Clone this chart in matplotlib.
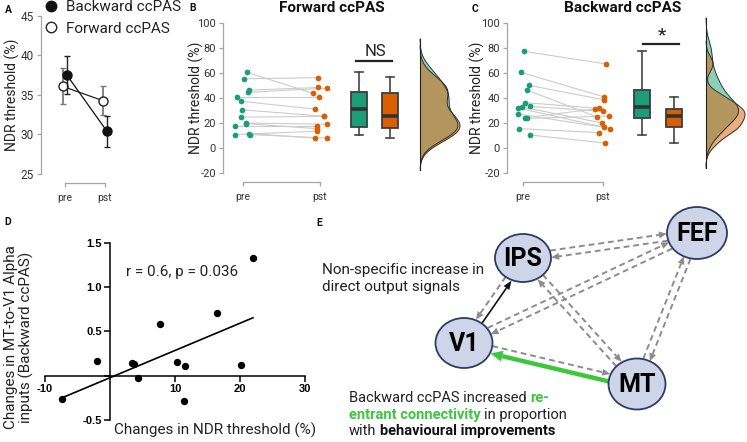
import numpy as np
import matplotlib
matplotlib.use("Agg")
import matplotlib.pyplot as plt
from matplotlib.patches import Ellipse, Polygon
from matplotlib.lines import Line2D

plt.rcParams['font.family'] = ['Roboto', 'DejaVu Sans']
plt.rcParams['axes.unicode_minus'] = False

W, H = 747, 442

# ---------------- data ----------------
sessions = ['pre', 'pst']

# A: group means +- error
bwd_mean = [37.5, 30.4]
bwd_err = [2.4, 2.0]
fwd_mean = [36.1, 34.3]
fwd_err = [2.3, 1.8]

# B: forward ccPAS, single subjects (NDR threshold %)
fwd_pre = [60.5, 55.3, 46.3, 44.5, 40.5, 37.4, 30.5, 24.7, 20.0, 19.5, 17.4, 10.8, 11.6, 10.8]
fwd_pst = [43.7, 56.3, 48.4, 47.9, 40.5, 31.1, 25.5, 25.3, 19.0, 15.5, 17.4, 13.4, 7.9, 7.9]
fwd_box = [dict(whislo=10.5, q1=17.2, med=31.0, q3=45.0, whishi=60.5, fliers=[]),
           dict(whislo=7.8, q1=16.4, med=25.7, q3=44.2, whishi=56.4, fliers=[])]

# C: backward ccPAS
bwd_pre = [77.3, 60.5, 50.1, 46.4, 36.3, 33.3, 32.8, 32.0, 27.2, 24.3, 23.7, 15.5, 10.4]
bwd_pst = [67.2, 40.8, 38.6, 24.8, 31.7, 29.3, 20.0, 15.5, 16.5, 31.2, 25.6, 12.3, 4.0]
bwd_box = [dict(whislo=10.4, q1=24.0, med=33.0, q3=46.4, whishi=77.3, fliers=[]),
           dict(whislo=4.0, q1=17.0, med=25.3, q3=31.4, whishi=40.5, fliers=[])]

# horizontal jitter of the dots (px)
fwd_pre_jit = [4, 1.3, 6, 5.3, -6, -2, -0.7, -2.3, 2.7, 2.7, -7.7, -7.7, 6, 7]
fwd_pst_jit = [-6.7, -2, -2, 6.7, -1, -5, 3.7, 4.3, 7.3, -3, -3.3, -3, -4.7, 7]
bwd_pre_jit = [1, -2, 6, 3.7, 2, 6.7, -1.3, -5, -5, 2.3, 4, -4.3, 7]
bwd_pst_jit = [3.3, 1.3, 0.7, -5.7, -4.3, -0.3, -0.7, 7.3, 1, -8, 6, -3.7, 1.7]

# D: correlation
chg_ndr = [-7.4, -2.0, 3.4, 3.7, 4.3, 7.7, 10.3, 11.6, 11.4, 16.5, 20.2, 22.0]
chg_alpha = [-0.26, 0.16, 0.14, 0.13, -0.03, 0.58, 0.15, 0.11, -0.29, 0.71, 0.12, 1.33]

GREEN = '#1b9e77'
ORANGE = '#d95f02'
AXGREY = '#a6a6a6'
TXT = '#333333'


def px_axes(l, t, r, b):
    return fig.add_axes([l / W, 1 - b / H, (r - l) / W, (b - t) / H])


def nrd0(v):
    v = np.asarray(v, float)
    iqr = np.subtract(*np.percentile(v, [75, 25]))
    return 0.9 * min(v.std(ddof=1), iqr / 1.34) * len(v) ** -0.2


def kde(v):
    v = np.asarray(v, float)
    bw = nrd0(v)
    g = np.linspace(v.min() - 3 * bw, v.max() + 3 * bw, 400)
    d = np.exp(-0.5 * ((g[:, None] - v[None, :]) / bw) ** 2).sum(1) / (len(v) * bw * np.sqrt(2 * np.pi))
    return g, d


def grey_axes(ax, x0, x1):
    for s in ['top', 'right']:
        ax.spines[s].set_visible(False)
    for s in ['left', 'bottom']:
        ax.spines[s].set_color(AXGREY)
        ax.spines[s].set_linewidth(0.9)
    ax.spines['bottom'].set_position(('outward', 6.5))
    ax.spines['bottom'].set_bounds(x0, x1)
    ax.set_xticks([x0, x1])
    ax.set_xticklabels(sessions)
    ax.tick_params(axis='both', color=AXGREY, length=3, width=0.9, labelcolor=TXT, labelsize=8, pad=2)
    ax.tick_params(axis='x', labelsize=7.5, pad=4)
    ax.patch.set_alpha(0)


def rain(ax, pre, pst, pre_jit, pst_jit, boxes, lay):
    xp = lay['pre'] + np.array(pre_jit)
    xq = lay['pst'] + np.array(pst_jit)
    for a, b, c, d in zip(xp, pre, xq, pst):
        ax.plot([a, c], [b, d], color='#cccccc', lw=0.8, zorder=1)
    ax.scatter(xp, pre, s=17, color=GREEN, lw=0, zorder=3)
    ax.scatter(xq, pst, s=17, color=ORANGE, lw=0, zorder=3)
    bp = ax.bxp(boxes, positions=lay['box'], widths=16, capwidths=8, showfliers=False,
                patch_artist=True,
                boxprops=dict(edgecolor='#3d3d3d', linewidth=1.3),
                medianprops=dict(color='#333333', linewidth=2.6),
                whiskerprops=dict(color='#444444', linewidth=1.2),
                capprops=dict(color='#444444', linewidth=1.2))
    for patch, c in zip(bp['boxes'], [GREEN, ORANGE]):
        patch.set_facecolor(c)
    dens = [kde(pre), kde(pst)]
    mx = max(d.max() for g, d in dens)
    for (g, d), c in zip(dens, [GREEN, ORANGE]):
        xs = lay['dens'] + d / mx * lay['dens_w']
        ax.fill_betweenx(g, lay['dens'], xs, color=c, alpha=0.5, lw=0, clip_on=False, zorder=2)
        ax.plot(xs, g, color='#222222', lw=0.6, clip_on=False, zorder=3)
    lo = min(g.min() for g, d in dens)
    hi = max(g.max() for g, d in dens)
    ax.plot([lay['dens']] * 2, [lo, hi], color='#222222', lw=0.8, clip_on=False, zorder=3)


fig = plt.figure(figsize=(W / 100, H / 100), dpi=100)

# ---------------- A ----------------
ax_a = px_axes(41, 16, 125, 174)
xa = np.array([65, 105])
hb = ax_a.errorbar(xa + 2, bwd_mean, yerr=bwd_err, fmt='-o', color='#111111', ms=6.5,
                   lw=0.9, ecolor='#222222', elinewidth=1.0, capsize=2, zorder=3)
hf = ax_a.errorbar(xa - 2.5, fwd_mean, yerr=fwd_err, fmt='-o', color='#222222', mfc='white',
                   mec='#222222', ms=6.5, lw=0.9, ecolor='#7a7a7a', elinewidth=1.3, capsize=2, zorder=2)
ax_a.set_xlim(41, 125)
ax_a.set_ylim(25, 45)
ax_a.set_yticks([25, 30, 35, 40, 45])
grey_axes(ax_a, xa[0], xa[1])
ax_a.tick_params(axis='y', labelsize=8.5)
leg_h = [Line2D([], [], marker='o', ls='none', color='#111111', ms=7.5),
         Line2D([], [], marker='o', ls='none', color='#222222', mfc='white', ms=7.5)]
ax_a.legend(leg_h, ['Backward ccPAS', 'Forward ccPAS'], loc='upper left',
            bbox_to_anchor=(46 / W, 1 + 0 / H), bbox_transform=fig.transFigure,
            frameon=False, fontsize=11, handlelength=0.7, handletextpad=0.6,
            labelspacing=0.5, borderpad=0, borderaxespad=0, labelcolor='#222222')

# ---------------- B ----------------
ax_b = px_axes(223, 23, 465, 173)
lay_b = dict(pre=243, pst=320, box=[359, 390], dens=420, dens_w=40)
rain(ax_b, fwd_pre, fwd_pst, fwd_pre_jit, fwd_pst_jit, fwd_box, lay_b)
ax_b.set_xlim(223, 465)
ax_b.set_ylim(-20, 100)
ax_b.set_yticks(range(-20, 101, 20))
grey_axes(ax_b, lay_b['pre'], lay_b['pst'])
ax_b.spines['left'].set_bounds(-20, 100)

# ---------------- C ----------------
ax_c = px_axes(507, 23, 747, 173)
lay_c = dict(pre=523, pst=603, box=[642, 674], dens=706, dens_w=39)
rain(ax_c, bwd_pre, bwd_pst, bwd_pre_jit, bwd_pst_jit, bwd_box, lay_c)
ax_c.set_xlim(507, 747)
ax_c.set_ylim(-20, 100)
ax_c.set_yticks(range(-20, 101, 20))
grey_axes(ax_c, lay_c['pre'], lay_c['pst'])
ax_c.spines['left'].set_bounds(-20, 100)

# ---------------- D ----------------
ax_d = px_axes(45, 242.7, 305, 420)
ax_d.scatter(chg_ndr, chg_alpha, s=28, color='black', lw=0, zorder=3, clip_on=False)
k, b0 = np.polyfit(chg_ndr, chg_alpha, 1)
xl = np.array([min(chg_ndr), max(chg_ndr)])
ax_d.plot(xl, k * xl + b0, color='black', lw=1.2)
ax_d.set_xlim(-10, 30)
ax_d.set_ylim(-0.5, 1.5)
ax_d.spines['left'].set_position(('data', 0))
ax_d.spines['bottom'].set_position(('data', 0))
for s in ['top', 'right']:
    ax_d.spines[s].set_visible(False)
for s in ['left', 'bottom']:
    ax_d.spines[s].set_linewidth(1.1)
ax_d.set_xticks([-10, 10, 20, 30])
ax_d.set_yticks([-0.5, 0, 0.5, 1.0, 1.5])
ax_d.set_yticklabels(['-0.5', '', '0.5', '1.0', '1.5'])
ax_d.tick_params(length=4, width=1.1, labelsize=8, pad=2)
for tl in ax_d.get_xticklabels() + ax_d.get_yticklabels():
    tl.set_fontfamily(['Liberation Sans', 'DejaVu Sans'])
    tl.set_fontweight('bold')
ax_d.text(0.31, 0.835, 'r = 0.6, p = 0.036', transform=ax_d.transAxes, fontsize=11,
          color='#222222', ha='left', va='center')
ax_d.patch.set_alpha(0)

# ---------------- canvas (labels + diagram E) ----------------
cv = fig.add_axes([0, 0, 1, 1], zorder=10)
cv.set_xlim(0, W)
cv.set_ylim(H, 0)
cv.axis('off')
cv.patch.set_alpha(0)

for lab, x, y in [('A', 8, 10), ('B', 193, 8), ('C', 475, 9), ('D', 8, 222), ('E', 319, 223)]:
    cv.text(x, y, lab, fontsize=7.5, fontweight='bold', ha='center', va='center', color='#111111')

cv.text(12, 95, 'NDR threshold (%)', rotation=90, fontsize=10, ha='center', va='center', color='#222222')
cv.text(196, 98, 'NDR threshold (%)', rotation=90, fontsize=10, ha='center', va='center', color='#222222')
cv.text(477, 98, 'NDR threshold (%)', rotation=90, fontsize=10, ha='center', va='center', color='#222222')
cv.text(332, 8, 'Forward ccPAS', fontsize=11, fontweight='bold', ha='center', va='center', color='#111111')
cv.text(623, 8, 'Backward ccPAS', fontsize=11, fontweight='bold', ha='center', va='center', color='#111111')

cv.text(375, 52, 'NS', fontsize=12, ha='center', va='center', color='#222222')
cv.plot([356, 392], [61, 61], color='#222222', lw=1.6)
cv.text(662, 35, '*', fontsize=14, ha='center', va='center', color='#222222')
cv.plot([643, 679], [44, 44], color='#222222', lw=1.6)

cv.text(19, 337, 'Changes in MT-to-V1 Alpha\ninputs (Backward ccPAS)', rotation=90, fontsize=11,
        ha='center', va='center', color='#222222', linespacing=1.1)
cv.text(215, 430, 'Changes in NDR threshold (%)', fontsize=11, ha='center', va='center', color='#222222')

# network diagram
nodes = {'IPS': (523, 258, 56, 48), 'FEF': (697, 233, 60, 52),
         'V1': (464, 343, 57, 50), 'MT': (637, 384, 57, 51)}
for name, (cx, cy, w, h) in nodes.items():
    cv.add_patch(Ellipse((cx, cy), w, h, fc='#cfd5e9', ec='#2d3b68', lw=1.3, zorder=3))
    cv.text(cx, cy + 1, name, fontsize=18, fontweight='bold', ha='center', va='center', zorder=4)


def rim(a, b):
    cx, cy, w, h = nodes[a]
    ox, oy = nodes[b][:2]
    d = np.array([ox - cx, oy - cy], float)
    d /= np.hypot(*d)
    t = 1 / np.sqrt((d[0] / (w / 2)) ** 2 + (d[1] / (h / 2)) ** 2)
    return np.array([cx, cy]) + d * t


def edge(a, b, off, color='#8c8c8c', lw=1.4, dashed=True, hl=8, hw=7):
    p, q = rim(a, b), rim(b, a)
    d = (q - p) / np.hypot(*(q - p))
    n = np.array([d[1], -d[0]])
    p = p + n * off
    q = q + n * off
    base = q - d * hl
    ls = dict(dashes=(3, 2)) if dashed else {}
    cv.plot([p[0], base[0]], [p[1], base[1]], color=color, lw=lw, solid_capstyle='butt', zorder=2, **ls)
    cv.add_patch(Polygon([q, base + n * hw / 2, base - n * hw / 2], closed=True, fc=color, ec='none', zorder=2))


for a, b in [('IPS', 'FEF'), ('FEF', 'IPS'), ('V1', 'FEF'), ('FEF', 'V1'),
             ('IPS', 'MT'), ('MT', 'IPS'), ('FEF', 'MT'), ('MT', 'FEF'), ('V1', 'MT')]:
    edge(a, b, 3.5)
edge('IPS', 'V1', -3.5)
edge('V1', 'IPS', -3.5, color='#111111', lw=1.2, dashed=False, hl=9, hw=7)
edge('MT', 'V1', 4, color='#3cc83c', lw=3.2, dashed=False, hl=12, hw=11)

cv.text(322, 274, 'Non-specific increase in', fontsize=11, va='baseline', color='#222222')
cv.text(322, 291, 'direct output signals', fontsize=11, va='baseline', color='#222222')

LGREEN = '#3cc83c'


def rich_line(x, y, parts):
    prev = None
    for s, bold, col in parts:
        kw = dict(fontsize=10.5, color=col, fontweight='bold' if bold else 'normal')
        if prev is None:
            prev = cv.text(x, y, s, va='baseline', ha='left', **kw)
        else:
            prev = cv.annotate(s, xy=(1, 0), xycoords=prev, xytext=(2.7, 0), textcoords='offset points',
                               va='bottom', ha='left', **kw)


rich_line(349, 402, [('Backward ccPAS increased', False, '#222222'), ('re-', True, LGREEN)])
rich_line(349, 418.5, [('entrant connectivity', True, LGREEN), ('in proportion', False, '#222222')])
rich_line(349, 435, [('with', False, '#222222'), ('behavioural improvements', True, '#111111')])

fig.savefig('out.png', dpi=100)
